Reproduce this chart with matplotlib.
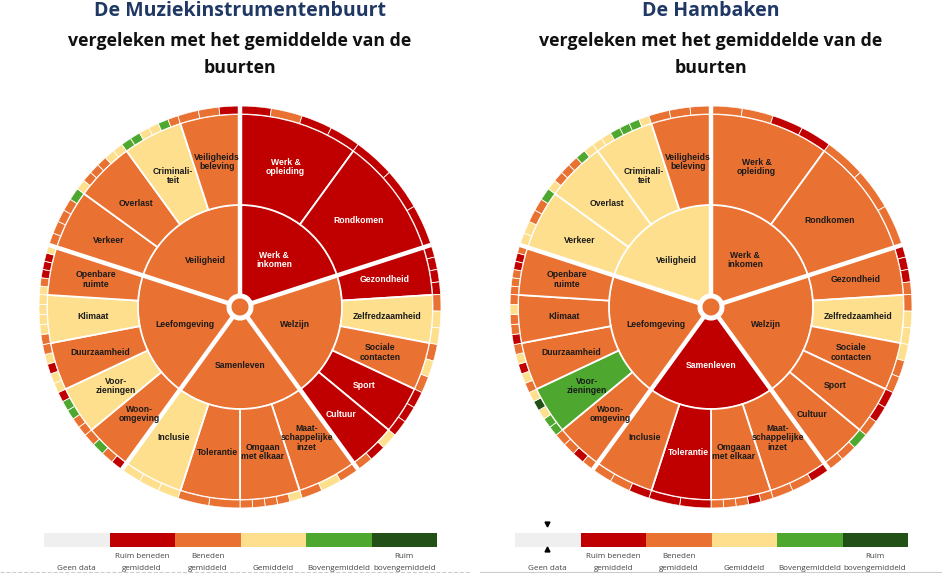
import numpy as np
import matplotlib.pyplot as plt

W, H = 942, 573

# score: 0 geen data, 1 ruim beneden, 2 beneden, 3 gemiddeld, 4 boven, 5 ruim boven
score_colors = ['#efefef', '#c00000', '#e97132', '#fddf8e', '#4ea72e', '#235016']
legend_labels = ['Geen data', 'Ruim beneden\ngemiddeld', 'Beneden\ngemiddeld',
                 'Gemiddeld', 'Bovengemiddeld', 'Ruim\nbovengemiddeld']

categories = ['Werk &\ninkomen', 'Welzijn', 'Samenleven', 'Leefomgeving', 'Veiligheid']
subcategories = [
    ['Werk &\nopleiding', 'Rondkomen'],
    ['Gezondheid', 'Zelfredzaamheid', 'Sociale\ncontacten', 'Sport', 'Cultuur'],
    ['Maat-\nschappelijke\ninzet', 'Omgaan\nmet elkaar', 'Tolerantie', 'Inclusie'],
    ['Woon-\nomgeving', 'Voor-\nzieningen', 'Duurzaamheid', 'Klimaat', 'Openbare\nruimte'],
    ['Verkeer', 'Overlast', 'Criminali-\nteit', 'Veiligheids\nbeleving'],
]

# De Muziekinstrumentenbuurt
muziek_hub = 2
muziek_cat = [1, 2, 2, 2, 2]
muziek_sub = [1, 1, 1, 3, 2, 1, 1, 2, 2, 2, 3, 2, 3, 2, 3, 2, 2, 2, 3, 2]
muziek_ind = [
    [1, 2, 1, 1], [1, 1, 1],
    [1, 1, 1, 1], [2, 3, 3], [2, 3, 2], [1, 1, 1], [3, 1, 2],
    [2, 3, 2], [3, 2, 2, 2, 2], [2, 2], [3, 3, 3],
    [1, 2, 4, 2], [2, 2, 4, 4, 1], [3, 3, 1, 3, 2], [2, 3, 3, 3, 3], [3, 2, 1, 1, 1, 3],
    [2, 2, 2, 2, 4], [3, 2, 2, 2, 3, 3], [4, 4, 3, 3, 4, 2], [2, 2, 1],
]

# De Hambaken
hambaken_hub = 2
hambaken_cat = [2, 2, 1, 2, 3]
hambaken_sub = [2, 2, 2, 3, 2, 2, 2, 2, 2, 1, 2, 2, 4, 2, 2, 2, 3, 3, 3, 2]
hambaken_ind = [
    [2, 2, 1, 1], [2, 2, 2],
    [1, 1, 1, 2], [2, 3, 3], [3, 2, 2], [1, 1, 2], [4, 2, 2],
    [1, 2, 2], [2, 1, 2, 2, 2], [1, 1], [1, 2, 2],
    [2, 1, 2, 2], [4, 4, 3, 5, 3], [2, 3, 1, 3, 2], [1, 2, 2, 3, 2], [2, 2, 2, 1, 1, 2],
    [3, 3, 2, 2, 4], [3, 2, 2, 2, 4, 3], [3, 3, 4, 4, 4, 3], [2, 2, 2],
]

R_DOT, R_HUB, R_IN, R_MID, R_OUT = 8.5, 13, 102, 193, 201

fig = plt.figure(figsize=(W / 100, H / 100), dpi=100)
bg = fig.add_axes([0, 0, 1, 1])
bg.set_xlim(0, W)
bg.set_ylim(H, 0)
bg.axis('off')


def txt_color(s):
    return 'white' if s == 1 else '#1a1a1a'


def draw_wheel(cx, cy, cat_scores, sub_scores, ind_scores, hub):
    ax = fig.add_axes([(cx - R_OUT) / W, (H - cy - R_OUT) / H, 2 * R_OUT / W, 2 * R_OUT / H],
                      projection='polar')
    ax.set_theta_zero_location('N')
    ax.set_theta_direction(-1)
    ax.set_ylim(0, R_OUT)
    ax.axis('off')
    cat_w = 2 * np.pi / len(categories)
    k = 0
    for i, cat in enumerate(categories):
        t0 = i * cat_w
        ax.bar(t0, R_IN - R_HUB, width=cat_w, bottom=R_HUB, align='edge',
               color=score_colors[cat_scores[i]], edgecolor='white', linewidth=0.8)
        ax.text(t0 + cat_w / 2, 58, cat, ha='center', va='center', fontsize=6.2,
                fontweight='bold', family='Liberation Sans', linespacing=1.05,
                color=txt_color(cat_scores[i]))
        subs = subcategories[i]
        sw = cat_w / len(subs)
        for j, sub in enumerate(subs):
            ts = t0 + j * sw
            ax.bar(ts, R_MID - R_IN, width=sw, bottom=R_IN, align='edge',
                   color=score_colors[sub_scores[k]], edgecolor='white', linewidth=1.3)
            ax.text(ts + sw / 2, 147, sub, ha='center', va='center', fontsize=6.2,
                    fontweight='bold', family='Liberation Sans', linespacing=1.05,
                    color=txt_color(sub_scores[k]))
            cells = ind_scores[k]
            cw = sw / len(cells)
            ax.bar(ts + np.arange(len(cells)) * cw, R_OUT - R_MID, width=cw, bottom=R_MID,
                   align='edge', color=[score_colors[c] for c in cells],
                   edgecolor='white', linewidth=0.6)
            k += 1
    for i in range(len(categories)):
        ax.plot([i * cat_w] * 2, [R_HUB - 3, R_OUT + 2], color='white', lw=3.2,
                solid_capstyle='butt')
    ax.bar(0, R_DOT, width=2 * np.pi, bottom=0, color=score_colors[hub], linewidth=0)
    ax.set_ylim(0, R_OUT)


def draw_legend(x0, x1, marker_x=None):
    n = len(score_colors)
    w = (x1 - x0) / n
    xs = x0 + w * np.arange(n)
    bg.bar(xs, 14, width=w, bottom=533, align='edge', color=score_colors, linewidth=0)
    for x, lab in zip(xs + w / 2, legend_labels):
        for li, line in enumerate(reversed(lab.split('\n'))):
            bg.text(x, 570.5 - li * 12.5, line, ha='center', va='baseline', fontsize=5.8,
                    family='Open Sans', color='#444444')
    if marker_x is not None:
        bg.plot(marker_x, 524, marker='v', color='black', ms=3.5)
        bg.plot(marker_x, 548.5, marker='^', color='black', ms=3.5)


def draw_title(cx, name):
    bg.text(cx, 16.5, name, ha='center', va='baseline', fontsize=14, fontweight='bold',
            family='Open Sans', color='#1f3864')
    bg.text(cx, 46.5, 'vergeleken met het gemiddelde van de', ha='center', va='baseline',
            fontsize=12.8, fontweight='bold', family='Open Sans', color='#111111')
    bg.text(cx, 73, 'buurten', ha='center', va='baseline',
            fontsize=12.8, fontweight='bold', family='Open Sans', color='#111111')


draw_title(240, 'De Muziekinstrumentenbuurt')
draw_title(711, 'De Hambaken')
draw_wheel(240, 307, muziek_cat, muziek_sub, muziek_ind, muziek_hub)
draw_wheel(711, 307, hambaken_cat, hambaken_sub, hambaken_ind, hambaken_hub)
draw_legend(44, 437)
draw_legend(515, 908, marker_x=547)
bg.plot([0, 470], [572, 572], color='#cccccc', lw=0.8, ls='--')
bg.plot([480, W], [572, 572], color='#cccccc', lw=0.8)

fig.savefig('out.png', dpi=100)
